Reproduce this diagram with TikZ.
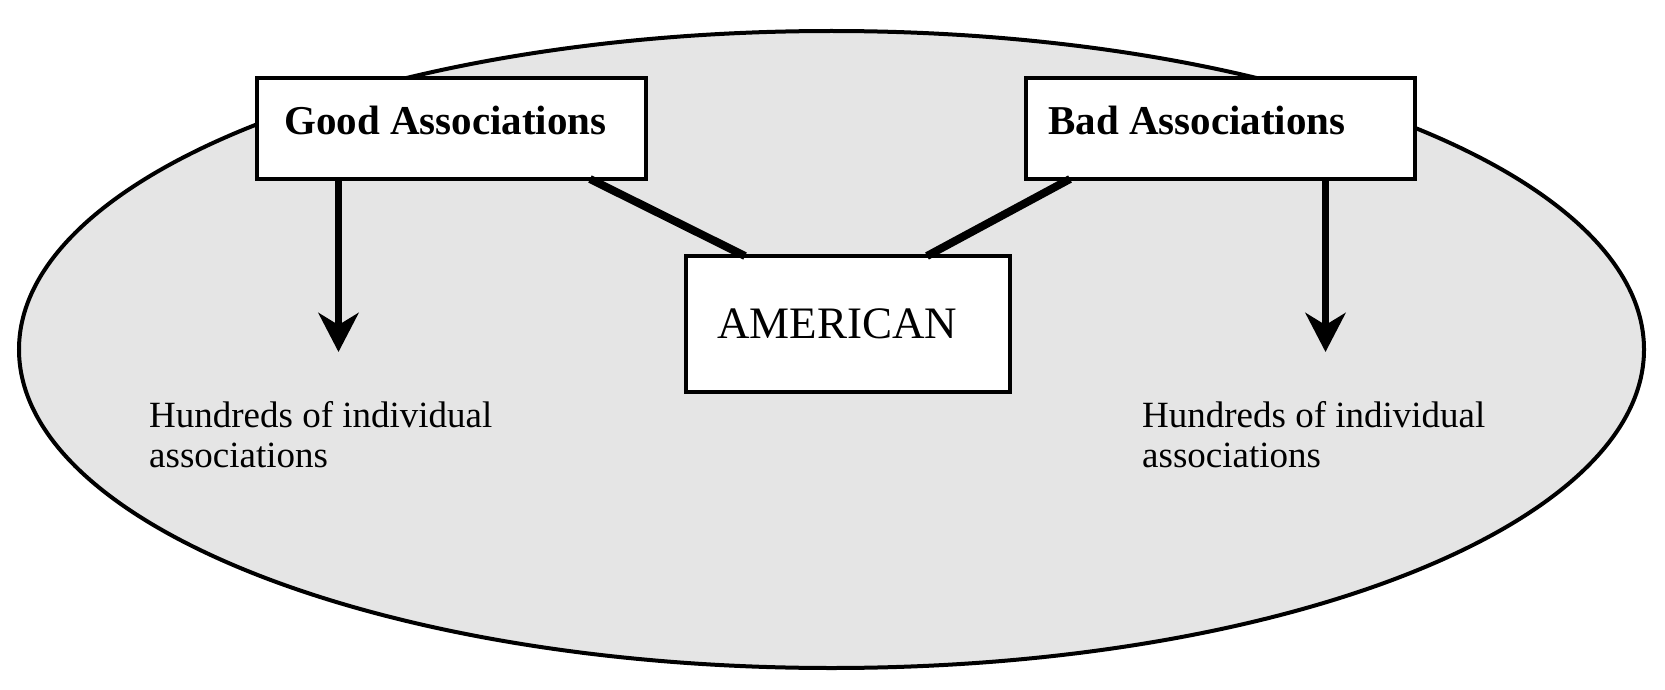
\documentclass[tikz,border=0pt]{standalone}
\usepackage{fontspec}
\setmainfont{Liberation Serif}
\usetikzlibrary{arrows.meta,calc}
\definecolor{bgfill}{RGB}{229,229,229}
\begin{document}
\begin{tikzpicture}[x=1pt,y=-1pt,
  box/.style={draw=black,fill=white,line width=4pt,rectangle,inner sep=0pt,outer sep=0pt,anchor=north west},
  link/.style={line width=8pt},
  down/.style={line width=7pt,-{Stealth[length=39pt,width=40pt,inset=12pt]}},
  boldlbl/.style={anchor=base west,inner sep=0pt,font=\bfseries\fontsize{41}{48}\selectfont},
  txt/.style={anchor=base west,inner sep=0pt,align=left,font=\fontsize{37}{40}\selectfont}]
\useasboundingbox (0,0) rectangle (1665,690);
\draw[line width=4pt,fill=bgfill] (831.5,349.5) ellipse [x radius=812.5pt,y radius=318.5pt];
\node[box,minimum width=388.5pt,minimum height=101pt] (good) at (257,78) {};
\node[box,minimum width=389pt,minimum height=101pt] (bad) at (1026,78) {};
\node[box,minimum width=324pt,minimum height=136pt] (amer) at (686,256) {};
\node[boldlbl] (goodt) at (284,135) {Good Associations};
\node[boldlbl] (badt) at (1048,135) {Bad Associations};
\node[anchor=base west,inner sep=0pt,font=\fontsize{45}{50}\selectfont] (amert) at (717,338) {AMERICAN};
\draw[link] ([xshift=333pt]good.south west) -- ([xshift=59pt]amer.north west);
\draw[link] ([xshift=44pt]bad.south west) -- ([xshift=241pt]amer.north west);
\coordinate (gtip) at (338.5,352);
\coordinate (btip) at (1325.5,352);
\draw[down] (good.south -| gtip) -- (gtip);
\draw[down] (bad.south -| btip) -- (btip);
\node[txt] (gtxt) at (149,467) {Hundreds of individual\\associations};
\node[txt] (btxt) at (1142,467) {Hundreds of individual\\associations};
\end{tikzpicture}
\end{document}
